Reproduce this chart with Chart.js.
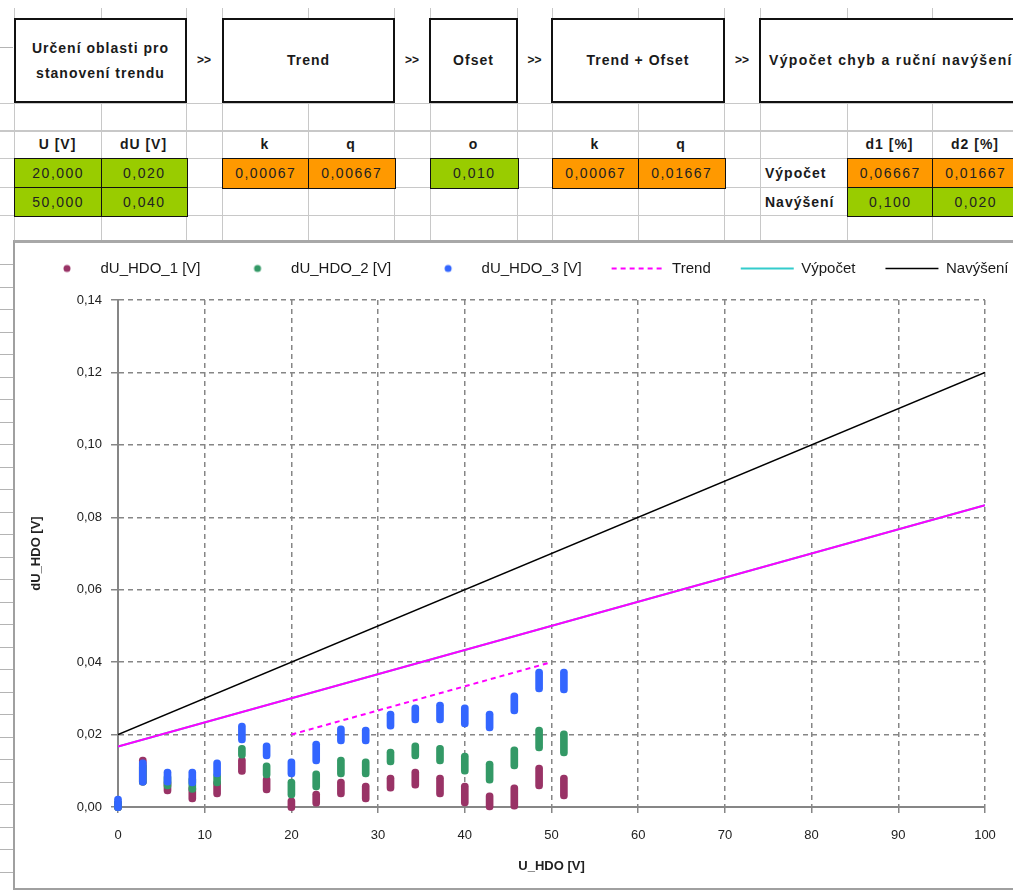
<!DOCTYPE html>
<html lang="cs">
<head>
<meta charset="utf-8">
<title>dU_HDO</title>
<script src="https://cdn.jsdelivr.net/npm/chart.js@4.4.1/dist/chart.umd.min.js"></script>
<style>
  html, body { margin: 0; padding: 0; width: 1013px; height: 893px; overflow: hidden; background: #fff; }
  body { position: relative; font-family: 'Liberation Sans', Arial, sans-serif; color: #1a1a1a; }
  .vl { position: absolute; width: 1px; background: #c8c8c8; }
  .hl { position: absolute; height: 1px; background: #c8c8c8; }
  .cover { position: absolute; left: 14px; top: 18px; width: 1000px; height: 85px; background: #fff; }
  .box { position: absolute; top: 18px; height: 85px; box-sizing: border-box; border: 2px solid #111; background: #fff;
         display: flex; align-items: center; justify-content: center; text-align: center;
         font-weight: bold; font-size: 14px; letter-spacing: 1px; line-height: 25px; }
  .arr { position: absolute; top: 53px; height: 20px; text-align: center; font-weight: bold; font-size: 12px; }
  .cell { position: absolute; box-sizing: border-box; border: 1.5px solid #111; display: flex; align-items: center;
          justify-content: center; font-size: 14px; letter-spacing: 1.5px; color: #222; }
  .hd { position: absolute; top: 130px; height: 28px; display: flex; align-items: center; justify-content: center;
        font-weight: bold; font-size: 14px; letter-spacing: 1px; }
  .g { background: #99cc00; }
  .o { background: #ff9900; }
  .lbl { position: absolute; left: 765px; height: 29px; display: flex; align-items: center;
         font-weight: bold; font-size: 14px; letter-spacing: 1px; }
  #frame { position: absolute; left: 13px; top: 240px; width: 1100px; height: 650px; box-sizing: border-box;
           border-left: 2px solid #a0a0a0; border-top: 3px solid #a8a8a8; border-bottom: 2px solid #a0a0a0; background: #fff; }
  #wrap { position: absolute; left: 10px; top: 231px; width: 1060px; height: 658px; }
</style>
</head>
<body>
<div id="grid"></div>
<div class="cover"></div>

<div class="box" style="left:14px;width:173px">Určení oblasti pro<br>stanovení trendu</div>
<div class="arr" style="left:186px;width:36px">&gt;&gt;</div>
<div class="box" style="left:222px;width:173px">Trend</div>
<div class="arr" style="left:394px;width:36px">&gt;&gt;</div>
<div class="box" style="left:429px;width:89px">Ofset</div>
<div class="arr" style="left:517px;width:35px">&gt;&gt;</div>
<div class="box" style="left:551px;width:174px">Trend + Ofset</div>
<div class="arr" style="left:724px;width:36px">&gt;&gt;</div>
<div class="box" style="left:759px;width:320px;justify-content:flex-start;padding-left:8px;letter-spacing:1.35px">Výpočet chyb a ruční navýšení</div>

<div class="hd" style="left:14px;width:87px">U [V]</div>
<div class="hd" style="left:101px;width:85px">dU [V]</div>
<div class="hd" style="left:222px;width:86px">k</div>
<div class="hd" style="left:308px;width:86px">q</div>
<div class="hd" style="left:430px;width:87px">o</div>
<div class="hd" style="left:552px;width:86px">k</div>
<div class="hd" style="left:638px;width:86px">q</div>
<div class="hd" style="left:847px;width:85px">d1 [%]</div>
<div class="hd" style="left:932px;width:86px">d2 [%]</div>

<div class="cell g" style="left:14px;top:158px;width:88.5px;height:30.5px">20,000</div>
<div class="cell g" style="left:101px;top:158px;width:86.5px;height:30.5px">0,020</div>
<div class="cell g" style="left:14px;top:187px;width:88.5px;height:29.5px">50,000</div>
<div class="cell g" style="left:101px;top:187px;width:86.5px;height:29.5px">0,040</div>
<div class="cell o" style="left:222px;top:158px;width:87.5px;height:30.5px">0,00067</div>
<div class="cell o" style="left:308px;top:158px;width:87.5px;height:30.5px">0,00667</div>
<div class="cell g" style="left:430px;top:158px;width:88.5px;height:30.5px">0,010</div>
<div class="cell o" style="left:552px;top:158px;width:87.5px;height:30.5px">0,00067</div>
<div class="cell o" style="left:638px;top:158px;width:87.5px;height:30.5px">0,01667</div>
<div class="lbl" style="top:158px">Výpočet</div>
<div class="lbl" style="top:187px">Navýšení</div>
<div class="cell o" style="left:847px;top:158px;width:86.5px;height:30.5px">0,06667</div>
<div class="cell o" style="left:932px;top:158px;width:87.5px;height:30.5px">0,01667</div>
<div class="cell g" style="left:847px;top:187px;width:86.5px;height:29.5px">0,100</div>
<div class="cell g" style="left:932px;top:187px;width:87.5px;height:29.5px">0,020</div>

<div id="frame"></div>
<div id="wrap"><canvas id="hdo-chart"></canvas></div>

<script>
// spreadsheet grid behind the table
const sheetCols = [14, 101, 186, 222, 308, 394, 430, 517, 552, 638, 724, 760, 847, 932];
const sheetRows = [103, 130, 158, 187, 215];
const grid = document.getElementById('grid');
sheetCols.forEach(x => {
  const d = document.createElement('div');
  d.className = 'vl';
  d.style.cssText = `left:${x}px;top:8px;height:232px`;
  grid.appendChild(d);
});
sheetRows.forEach(y => {
  const d = document.createElement('div');
  d.className = 'hl';
  d.style.cssText = `left:0;top:${y}px;width:1013px` + (y === 130 ? ';height:2px' : '');
  grid.appendChild(d);
});
[47].concat(Array.from({length: 28}, (_, i) => 264 + i * 22.5)).forEach(y => {
  const d = document.createElement('div');
  d.className = 'hl';
  d.style.cssText = `left:0;top:${y}px;width:13px;background:#b4b4b4`;
  grid.appendChild(d);
});

// chart data
const uHdo = [0, 2.86, 5.71, 8.57, 11.43, 14.29, 17.14, 20, 22.86, 25.71, 28.57, 31.43, 34.29, 37.14, 40, 42.86, 45.71, 48.57, 51.43];

// spread of each measured group, [low, high]
const dUHdo1 = [
  [-0.001, 0.002], [0.006, 0.0138], [0.0036, 0.0075], [0.0014, 0.006], [0.0028, 0.0075],
  [0.009, 0.0138], [0.0039, 0.0085], [-0.001, 0.0025], [0.0, 0.0044], [0.0028, 0.0077],
  [0.0014, 0.0066], [0.0044, 0.0088], [0.0052, 0.0105], [0.0028, 0.0088], [0.0003, 0.0066],
  [-0.0008, 0.0039], [-0.0006, 0.0061], [0.005, 0.0116], [0.0022, 0.0088]
];
const dUHdo2 = [
  [-0.001, 0.002], [0.006, 0.012], [0.005, 0.009], [0.004, 0.0085], [0.0058, 0.0095],
  [0.0135, 0.017], [0.008, 0.0122], [0.0025, 0.0077], [0.0047, 0.01], [0.0083, 0.0138],
  [0.0083, 0.0133], [0.0116, 0.016], [0.0133, 0.0177], [0.0119, 0.017], [0.0091, 0.0149],
  [0.0066, 0.0127], [0.0105, 0.0166], [0.0155, 0.0221], [0.0141, 0.021]
];
const dUHdo3 = [
  [-0.001, 0.003], [0.006, 0.013], [0.006, 0.0105], [0.0058, 0.0105], [0.0083, 0.013],
  [0.0177, 0.0232], [0.0133, 0.0177], [0.0083, 0.0133], [0.0119, 0.0182], [0.0174, 0.0224],
  [0.0174, 0.0221], [0.0215, 0.0265], [0.0232, 0.0282], [0.0232, 0.029], [0.0221, 0.0282],
  [0.021, 0.0265], [0.0257, 0.0315], [0.0318, 0.0381], [0.0315, 0.0381]
];

const trendX = [20, 50];
const trendY = [0.02, 0.04];
const vypocetX = [0, 100];
const vypocetY = [0.0167, 0.0833];
const trendOfsetX = [0, 100];
const trendOfsetY = [0.0167, 0.0833];
const navyseniX = [0, 100];
const navyseniY = [0.02, 0.12];

const seriesColors = ['#993366', '#339966', '#3366ff'];

const toRanges = ranges => ranges.map((r, i) => ({x: uHdo[i], y: r}));
const toPoints = (xs, ys) => xs.map((x, i) => ({x: x, y: ys[i]}));

// legend marker: a dot inside a box as wide as the line markers
function dotMarker(color) {
  const c = document.createElement('canvas');
  c.width = 53;
  c.height = 10;
  const g = c.getContext('2d');
  g.fillStyle = color;
  g.beginPath();
  g.arc(27, 5, 3.5, 0, Math.PI * 2);
  g.fill();
  return c;
}

const barStyle = {
  barThickness: 7,
  borderRadius: 3.5,
  borderSkipped: false,
  borderWidth: 0,
  grouped: false,
  clip: false
};

const datasets = [
  Object.assign({label: 'dU_HDO_1 [V]', data: toRanges(dUHdo1), backgroundColor: seriesColors[0], pointStyle: dotMarker(seriesColors[0]), order: 4}, barStyle),
  Object.assign({label: 'dU_HDO_2 [V]', data: toRanges(dUHdo2), backgroundColor: seriesColors[1], pointStyle: dotMarker(seriesColors[1]), order: 3}, barStyle),
  Object.assign({label: 'dU_HDO_3 [V]', data: toRanges(dUHdo3), backgroundColor: seriesColors[2], pointStyle: dotMarker(seriesColors[2]), order: 2}, barStyle),
  {type: 'line', label: 'Trend', data: toPoints(trendX, trendY), borderColor: '#ff00ff', borderWidth: 2, borderDash: [5, 4], pointRadius: 0, pointStyle: 'line', order: 0},
  {type: 'line', label: 'Výpočet', data: toPoints(vypocetX, vypocetY), borderColor: '#33cccc', borderWidth: 2, pointRadius: 0, pointStyle: 'line', order: 1},
  {type: 'line', label: 'Navýšení', data: toPoints(navyseniX, navyseniY), borderColor: '#000000', borderWidth: 1.5, pointRadius: 0, pointStyle: 'line', order: 0},
  {type: 'line', label: 'Trend + Ofset', data: toPoints(trendOfsetX, trendOfsetY), borderColor: '#ff00ff', borderWidth: 2, pointRadius: 0, pointStyle: 'line', order: 0}
];

// extra room between legend and plot
const legendGap = {
  id: 'legendGap',
  beforeInit(chart) {
    const fit = chart.legend.fit;
    chart.legend.fit = function () {
      fit.bind(chart.legend)();
      this.height += 14;
    };
  }
};

Chart.defaults.font.family = "'Liberation Sans', Arial, sans-serif";
Chart.defaults.color = '#1a1a1a';

const gridColor = '#868686';
const defaultLabels = Chart.defaults.plugins.legend.labels.generateLabels;

const ctx = document.getElementById('hdo-chart').getContext('2d');
const hdoChart = new Chart(ctx, {
  type: 'bar',
  data: {datasets: datasets},
  options: {
    responsive: true,
    maintainAspectRatio: false,
    animation: false,
    layout: {padding: 0},
    plugins: {
      tooltip: {enabled: false},
      legend: {
        position: 'top',
        align: 'start',
        labels: {
          usePointStyle: true,
          pointStyleWidth: 53,
          padding: 30,
          font: {size: 15},
          color: '#1a1a1a',
          sort: (a, b) => a.datasetIndex - b.datasetIndex,
          filter: item => item.text !== 'Trend + Ofset',
          generateLabels: chart => defaultLabels(chart).map(item => {
            const ds = chart.data.datasets[item.datasetIndex];
            if (ds.type === 'line') {
              item.strokeStyle = ds.borderColor;
              item.lineWidth = ds.borderWidth;
              item.lineDash = ds.borderDash || [];
            }
            return item;
          })
        }
      }
    },
    scales: {
      x: {
        type: 'linear',
        min: 0,
        max: 100,
        offset: false,
        grid: {offset: false, color: gridColor, lineWidth: 1.5, tickLength: 6, tickColor: gridColor, tickWidth: 1.5},
        border: {color: gridColor, width: 2, dash: [5, 4]},
        ticks: {stepSize: 10, padding: 15, font: {size: 13}, color: '#222', maxRotation: 0, autoSkip: false},
        title: {display: true, text: 'U_HDO [V]', color: '#222', font: {size: 13, weight: 'bold'}, padding: {top: 4, bottom: 15}},
        afterFit: scale => { scale.height = 82; }
      },
      y: {
        type: 'linear',
        min: 0,
        max: 0.14,
        grid: {color: gridColor, lineWidth: 1.5, tickLength: 7, tickColor: gridColor, tickWidth: 1.5},
        border: {color: gridColor, width: 2, dash: [5, 4]},
        ticks: {
          stepSize: 0.02,
          padding: 9,
          font: {size: 13},
          color: '#222',
          callback: value => value.toFixed(2).replace('.', ',')
        },
        title: {display: true, text: 'dU_HDO [V]', color: '#222', font: {size: 13, weight: 'bold'}, padding: {top: 19, bottom: 0}},
        afterFit: scale => { scale.width = 108; }
      },
      y2: {
        position: 'right',
        display: true,
        grid: {display: false},
        border: {display: false},
        ticks: {display: false},
        afterFit: scale => { scale.width = 85; }
      }
    }
  },
  plugins: [legendGap]
});
</script>
</body>
</html>
